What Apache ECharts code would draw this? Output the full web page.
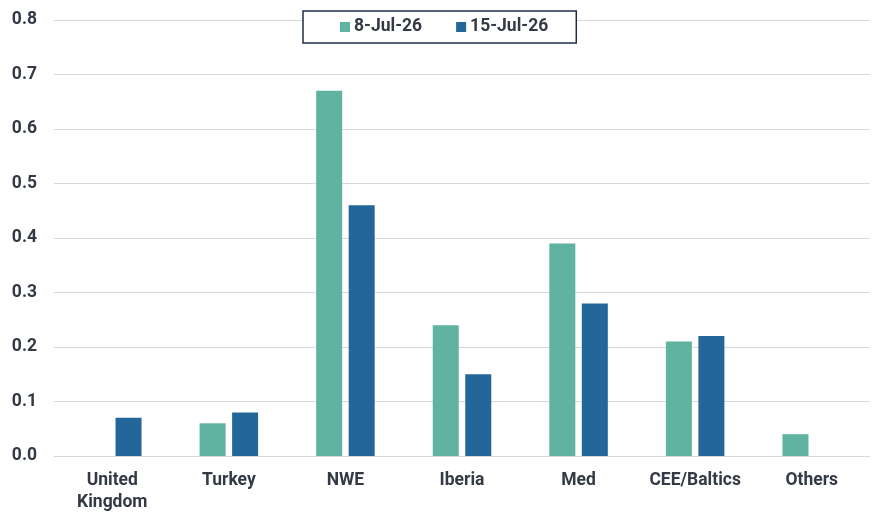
<!DOCTYPE html>
<html>
<head>
<meta charset="utf-8">
<script src="https://cdn.jsdelivr.net/npm/echarts@6/dist/echarts.min.js"></script>
<style>
html, body { margin: 0; padding: 0; background: #fff; }
#chart { width: 892px; height: 516px; }
</style>
</head>
<body>
<div id="chart"></div>
<script>
// regions on the x axis
var regions = ['United\nKingdom', 'Turkey', 'NWE', 'Iberia', 'Med', 'CEE/Baltics', 'Others'];
// weekly values
var week8Jul = [null, 0.06, 0.67, 0.24, 0.39, 0.21, 0.04];
var week15Jul = [0.07, 0.08, 0.46, 0.15, 0.28, 0.22, null];
var seriesNames = ['8-Jul-26', '15-Jul-26'];

var chart = echarts.init(document.getElementById('chart'));

var labelFont = {
    color: '#333a45',
    fontFamily: 'Roboto',
    fontWeight: 'bold',
    fontSize: 17.5
};

var option = {
    animation: false,
    grid: { left: 54, right: 22, top: 20, bottom: 60, containLabel: false },
    legend: {
        top: 11,
        left: 303,
        itemWidth: 10,
        itemHeight: 10,
        itemGap: 34,
        padding: [7, 28, 7, 37],
        borderColor: '#1f2d4a',
        borderWidth: 1.5,
        backgroundColor: '#fff',
        icon: 'rect',
        textStyle: Object.assign({ padding: [0, 0, 0, -1] }, labelFont),
        data: seriesNames
    },
    xAxis: {
        type: 'category',
        data: regions,
        axisTick: { show: false },
        axisLine: { lineStyle: { color: '#d9d9d9', width: 1 } },
        axisLabel: Object.assign({ margin: 14, lineHeight: 22, interval: 0 }, labelFont)
    },
    yAxis: {
        type: 'value',
        min: 0,
        max: 0.8,
        interval: 0.1,
        axisLine: { show: false },
        axisTick: { show: false },
        splitLine: { lineStyle: { color: '#d9d9d9', width: 1 } },
        axisLabel: Object.assign({
            margin: 17,
            formatter: function (v) { return v.toFixed(1); }
        }, labelFont)
    },
    series: [
        {
            name: seriesNames[0],
            type: 'bar',
            data: week8Jul,
            itemStyle: { color: '#5fb3a0' },
            barWidth: 26,
            barGap: '25%'
        },
        {
            name: seriesNames[1],
            type: 'bar',
            data: week15Jul,
            itemStyle: { color: '#236699' },
            barWidth: 26,
            barGap: '25%'
        }
    ]
};
chart.setOption(option);
</script>
</body>
</html>
